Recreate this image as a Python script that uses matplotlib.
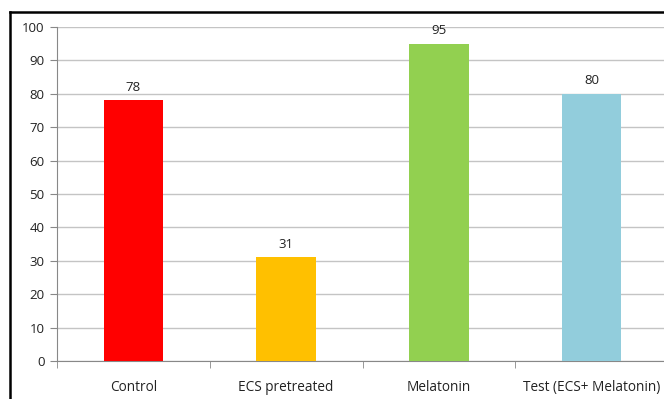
import matplotlib
matplotlib.use("Agg")
import matplotlib.pyplot as plt
from matplotlib.lines import Line2D
import numpy as np

categories = ["Control", "ECS pretreated", "Melatonin", "Test (ECS+ Melatonin)"]
values = [78, 31, 95, 80]
colors = ["#FF0000", "#FFC000", "#92D050", "#92CDDC"]
yticks = [0, 10, 20, 30, 40, 50, 60, 70, 80, 90, 100]

plt.rcParams["font.family"] = ["Open Sans", "DejaVu Sans"]

fig = plt.figure(figsize=(6.64, 3.99), dpi=100)
ax = fig.add_axes([57 / 664, 1 - 361 / 399, 611 / 664, 334 / 399])

x = np.arange(len(categories))
ax.bar(x, values, width=0.39, color=colors, zorder=3)
for xi, v in zip(x, values):
    ax.text(xi, v + 2.0, str(v), ha="center", va="bottom", fontsize=9.5, color="#222222")

ax.set_xlim(-0.5, len(categories) - 0.5)
ax.set_ylim(0, 100)
ax.set_yticks(yticks)
ax.set_xticks(x)
ax.set_xticklabels(categories, fontsize=9.8, color="#222222")
ax.set_xticks(np.arange(-0.5, len(categories), 1.0), minor=True)
ax.tick_params(axis="x", which="major", length=0, pad=14)
ax.tick_params(axis="x", which="minor", length=5, color="#888888")
ax.tick_params(axis="y", length=5, color="#888888", labelsize=9.5, labelcolor="#222222", pad=4)

ax.yaxis.grid(True, color="#C4C4C4", linewidth=1.0, zorder=0)
for side in ["top", "right"]:
    ax.spines[side].set_visible(False)
ax.spines["left"].set_color("#888888")
ax.spines["bottom"].set_color("#888888")

# outer frame of the chart
fig.add_artist(Line2D([10 / 664, 10 / 664], [0, 1 - 12 / 399], color="black", linewidth=1.8,
                      transform=fig.transFigure))
fig.add_artist(Line2D([10 / 664, 1], [1 - 12 / 399, 1 - 12 / 399], color="black", linewidth=1.8,
                      transform=fig.transFigure))

fig.savefig("out.png", dpi=100)
